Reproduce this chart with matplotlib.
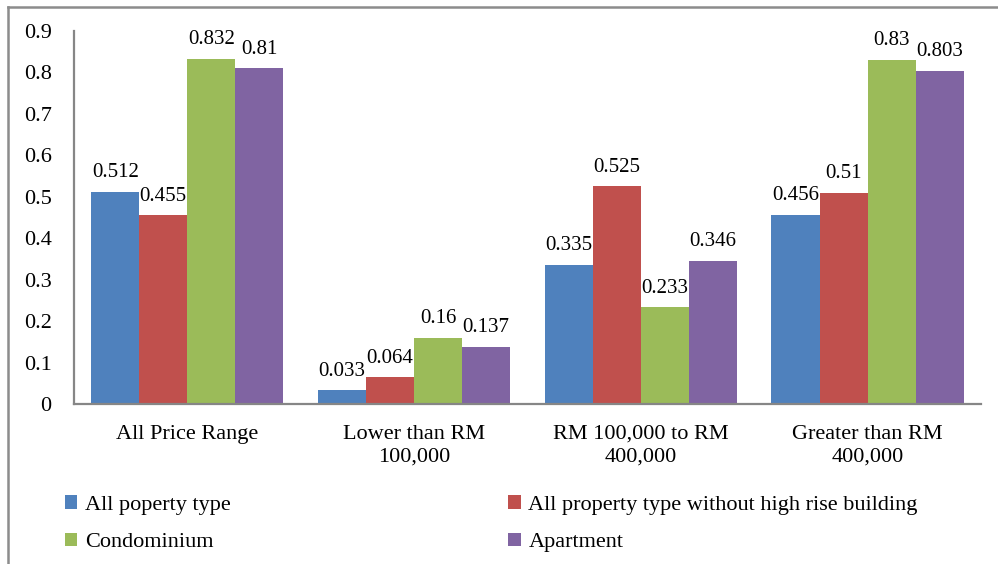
import matplotlib
matplotlib.use("Agg")
import matplotlib.pyplot as plt
import numpy as np
from matplotlib.lines import Line2D

plt.rcParams["font.family"] = ["Liberation Serif", "DejaVu Serif"]

categories = ["All Price Range", "Lower than RM\n100,000",
              "RM 100,000 to RM\n400,000", "Greater than RM\n400,000"]
series_names = ["All poperty type",
                "All property type without high rise building",
                "Condominium", "Apartment"]
all_property = [0.512, 0.033, 0.335, 0.456]
no_high_rise = [0.455, 0.064, 0.525, 0.51]
condominium = [0.832, 0.16, 0.233, 0.83]
apartment = [0.81, 0.137, 0.346, 0.803]
y_ticks = [0, 0.1, 0.2, 0.3, 0.4, 0.5, 0.6, 0.7, 0.8, 0.9]

series = [all_property, no_high_rise, condominium, apartment]
colors = ["#4F81BD", "#C0504D", "#9BBB59", "#8064A2"]

fig = plt.figure(figsize=(9.98, 5.64), dpi=100)
ax = fig.add_axes([0.0741, 0.2837, 0.9089, 0.6613])

x = np.arange(len(categories))
width = 0.212
bars = []
for i, (vals, name, col) in enumerate(zip(series, series_names, colors)):
    offs = (i - 1.5) * width
    b = ax.bar(x + offs, vals, width, color=col, label=name, linewidth=0)
    bars.append(b)
    for xi, v in zip(x + offs, vals):
        ax.annotate(f"{v:g}", (xi, v), xytext=(0, 7), textcoords="offset points",
                    ha="center", va="bottom", fontsize=15)

ax.set_xlim(-0.5, len(categories) - 0.5)
ax.set_ylim(0, 0.9)
ax.set_yticks(y_ticks)
ax.set_yticklabels([f"{v:g}" for v in y_ticks], fontsize=16)
ax.set_xticks(x)
ax.set_xticklabels(categories, fontsize=16, linespacing=1.25)
ax.tick_params(axis="both", length=0)
ax.tick_params(axis="y", pad=16)
ax.tick_params(axis="x", pad=15)
for s in ["top", "right"]:
    ax.spines[s].set_visible(False)
for s in ["left", "bottom"]:
    ax.spines[s].set_color("#868686")
    ax.spines[s].set_linewidth(1.6)

# legend fills row by row in the reference
order = [0, 2, 1, 3]
fig.legend(handles=[bars[i] for i in order],
           labels=[series_names[i] for i in order],
           ncol=2, loc="upper left",
           bbox_to_anchor=(0.045, 0.157), frameon=False, fontsize=16,
           handlelength=0.55, handleheight=0.55, handletextpad=0.35,
           columnspacing=12.5, labelspacing=0.8)

# outer frame (top and left edges)
fig.add_artist(Line2D([0.008, 1.0], [0.9876, 0.9876], transform=fig.transFigure,
                      color="#8c8c8c", linewidth=1.8))
fig.add_artist(Line2D([0.008, 0.008], [0.0, 0.9876], transform=fig.transFigure,
                      color="#8c8c8c", linewidth=1.8))

fig.savefig("out.png", dpi=100)
